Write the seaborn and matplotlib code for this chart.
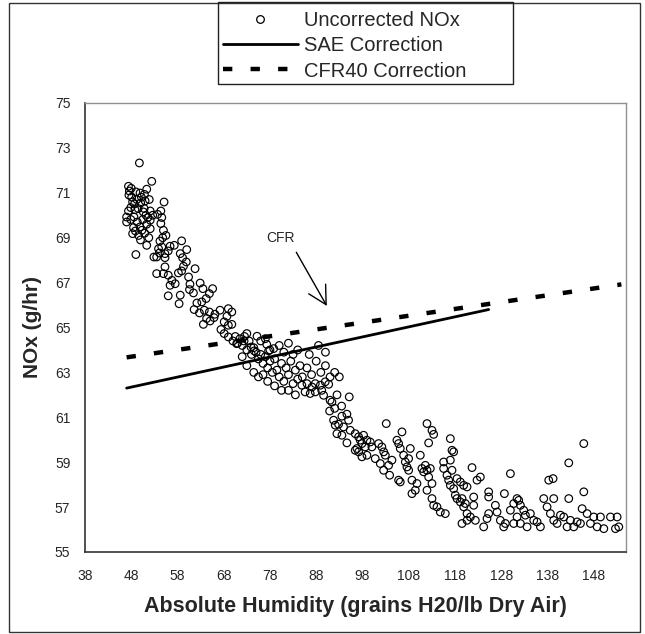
import numpy as np
import pandas as pd
import matplotlib
matplotlib.use("Agg")
import matplotlib.pyplot as plt
from matplotlib.patches import Rectangle
from matplotlib.lines import Line2D
import seaborn as sns

# Uncorrected NOx measurements (humidity in grains H2O / lb dry air, NOx in g/hr)
humidity_dry = [
    49.76, 52.43, 47.4, 47.6, 48.1, 49.0, 49.9, 50.85, 51.35, 51.9, 51.0, 50.05, 49.2, 48.3,
    47.9, 48.8, 47.4, 47.0, 47.0, 47.9, 48.6, 49.3, 48.5, 48.3, 49.9, 50.5, 51.2, 50.6, 52.1,
    52.65, 52.1, 51.35, 52.1, 50.3, 49.0, 51.35, 47.5, 48.0, 48.7, 49.5, 50.2, 50.8, 49.6, 50.9,
    51.6, 48.9, 50.0, 51.8,
    55.1, 54.4, 54.6, 53.7, 54.4, 54.96, 55.5, 54.8, 54.2, 54.6, 53.9, 52.9, 53.5, 54.1, 55.3,
    56.0, 56.4, 57.3, 58.9, 60.0, 58.6, 59.1, 59.9, 59.3, 58.9, 58.2, 55.3, 55.3, 54.96, 53.5,
    56.0, 56.8, 56.4, 57.5, 56.0, 58.6, 58.35, 60.4, 61.8, 60.7, 60.6, 61.45, 62.9, 63.5, 65.6,
    64.9, 64.2, 63.25, 62.2, 61.6, 62.75, 63.8, 64.9, 66.1, 64.3, 63.6, 65.05, 65.9, 67.2, 69.0,
    69.75, 68.7, 68.1, 69.0, 69.75, 67.4, 68.1, 69.0, 70.0, 70.8, 72.4, 73.0, 75.2, 76.0, 77.0,
    77.3, 73.9, 74.6, 78.8, 77.7,
]
nox_dry = [
    72.33, 71.51, 71.29, 71.08, 70.81, 71.04, 70.99, 70.93, 71.16, 70.70, 70.64, 70.55, 70.70, 70.59,
    70.34, 70.25, 70.19, 69.92, 69.70, 69.81, 69.92, 69.70, 69.45, 69.18, 69.48, 69.81, 70.00, 70.15, 70.19,
    70.0, 69.78, 69.6, 69.4, 69.33, 68.25, 68.66, 70.9, 71.2, 70.5, 70.3, 70.8, 70.3, 69.1, 69.2,
    69.9, 69.3, 68.9, 69.0,
    70.59, 70.19, 69.9, 70.04, 69.63, 69.33, 69.1, 69.0, 68.85, 68.59, 68.51, 68.14, 68.14, 68.32, 68.29,
    68.41, 68.62, 68.66, 68.86, 68.47, 68.29, 68.11, 67.92, 67.73, 67.52, 67.43, 68.11, 67.70, 67.40, 67.40,
    67.33, 67.10, 66.88, 66.95, 66.41, 66.44, 66.06, 67.25, 67.62, 66.93, 66.69, 66.54, 66.98, 66.73, 66.73,
    66.51, 66.29, 66.14, 66.09, 65.80, 65.65, 65.77, 65.69, 65.59, 65.40, 65.14, 65.29, 65.44, 65.77, 65.84,
    65.69, 65.50, 65.25, 65.10, 65.14, 64.91, 64.73, 64.58, 64.40, 64.28, 64.40, 64.73, 64.61, 64.40, 64.50,
    64.25, 64.13, 63.96, 64.06, 63.96,
]

humidity_mid = [
    70.5, 71.0, 71.5, 72.0, 72.5, 73.0, 73.5, 74.0, 74.5, 75.0, 75.5, 76.0, 76.5, 77.0, 77.5, 78.0,
    72.0, 73.0, 74.5, 75.5, 76.5, 77.5, 78.5, 79.0, 79.5, 80.0, 80.5, 81.0, 81.5, 82.0, 82.5, 83.0,
    83.5, 84.0, 84.5, 78.0, 80.0, 81.0, 82.0, 83.0, 84.0, 79.0, 80.5, 82.0, 83.5, 85.0, 86.0, 87.0,
    88.0, 89.0, 90.0, 91.0, 92.0, 86.5, 88.5, 90.0, 92.5, 93.5, 92.0, 93.0,
]
nox_mid = [
    64.6, 64.3, 64.5, 64.2, 64.6, 64.0, 64.4, 63.8, 64.1, 63.9, 63.6, 63.8, 63.4, 63.7, 63.2, 63.5,
    63.7, 63.3, 63.0, 62.8, 62.9, 62.6, 63.0, 63.6, 63.1, 62.8, 63.4, 62.6, 63.2, 62.9, 63.5, 62.5,
    63.1, 62.7, 63.3, 64.0, 64.2, 63.9, 64.3, 63.8, 64.0, 62.4, 62.2, 62.2, 62.0, 62.8, 63.2, 62.9,
    63.5, 63.0, 63.3, 62.8, 63.0, 63.8, 64.2, 63.9, 62.0, 61.5, 61.4, 62.8,
]

humidity_humid = [
    84.9, 86.0, 87.1, 87.8, 88.9, 89.95, 90.7, 85.6, 86.7, 87.8, 89.2, 89.6, 91.0, 91.4, 90.9, 95.15,
    91.76, 92.12, 92.84, 93.56, 94.64, 95.0, 93.92, 92.48, 93.56, 94.64, 95.36, 96.44, 97.17, 97.53,
    98.25, 97.89, 98.97, 99.69, 98.61, 96.8, 96.44, 97.17, 97.89, 98.97, 100.05, 100.77, 101.5, 102.2,
    102.6, 102.94, 101.86, 102.58, 103.66, 104.38, 103.88, 103.15, 105.46, 105.82, 106.18, 106.55,
    106.91, 107.27, 107.63, 107.99, 108.35, 107.99, 105.82, 106.18, 108.71, 108.71, 109.43, 109.79,
    110.51, 110.87, 111.24, 111.6, 111.96, 112.32, 112.68, 113.04, 111.96, 113.04, 113.4, 114.12,
    111.96, 113.04, 113.4, 112.32, 115.56, 115.56, 116.29, 116.65, 117.01, 117.73, 118.45, 119.17,
    119.89, 117.01, 117.37, 117.73, 117.01, 117.37, 114.84, 115.92, 118.09, 118.45, 119.17, 119.89,
    120.62, 121.34, 122.06, 122.06, 122.78, 123.5, 121.7, 120.62, 119.53, 120.25, 119.53, 120.62,
    122.42, 124.22, 124.94, 125.3, 125.3, 125.3, 126.75, 127.11, 127.83, 128.55, 128.91, 130.0,
    128.7, 130.0, 130.72, 131.44, 131.8, 132.16, 132.88, 133.24, 131.44, 130.72, 132.16, 133.6,
    134.32, 135.04, 135.77, 136.49, 137.21, 137.93, 138.29, 139.23, 139.37, 138.65, 139.37, 140.1,
    140.82, 141.54, 142.26, 142.62, 142.62, 142.98, 143.7, 144.42, 145.15, 145.87, 145.87, 145.51,
    146.59, 147.31, 148.03, 148.75, 149.47, 150.2, 151.64, 153.08, 152.72, 153.44,
]
nox_humid = [
    62.43, 62.50, 62.35, 62.50, 62.43, 62.58, 62.47, 62.13, 62.06, 62.13, 62.2, 61.98, 61.76, 61.68, 61.28, 61.91,
    60.87, 60.65, 60.69, 61.05, 61.14, 60.87, 60.57, 60.27, 60.2, 59.86, 60.42, 60.27, 60.13, 59.98,
    60.2, 59.83, 59.98, 59.90, 59.68, 59.61, 59.53, 59.46, 59.24, 59.31, 59.68, 59.16, 59.83, 59.68,
    59.46, 59.31, 58.94, 58.64, 58.86, 59.09, 58.42, 60.72, 59.98, 59.83, 59.61, 60.35,
    59.31, 59.01, 58.79, 58.64, 59.61, 59.16, 58.2, 58.12, 58.2, 57.6, 57.75, 58.05,
    59.31, 58.72, 58.57, 58.86, 58.64, 58.34, 58.72, 58.05, 57.75, 57.38, 57.08, 57.01,
    60.72, 60.42, 60.24, 59.86, 59.01, 58.72, 58.42, 58.2, 57.97, 57.82, 58.27, 58.12,
    57.97, 60.05, 59.53, 59.46, 59.09, 58.64, 56.78, 56.71, 57.53, 57.38, 57.23, 57.01,
    56.71, 56.56, 57.08, 57.45, 58.2, 58.34, 58.76, 57.9, 57.38, 57.16, 56.27, 56.41,
    56.41, 56.12, 56.49, 56.71, 57.68, 57.45, 57.08, 56.78, 56.41, 56.12, 56.27, 58.49,
    57.6, 56.86, 57.16, 57.38, 57.3, 57.08, 56.86, 56.64, 56.56, 56.27, 56.27, 56.12,
    56.71, 56.41, 56.34, 56.12, 57.38, 57.01, 58.2, 58.27, 57.38, 56.71, 56.41, 56.27,
    56.64, 56.56, 56.12, 58.97, 57.38, 56.41, 56.12, 56.34, 56.27, 59.83, 57.68, 56.93,
    56.71, 56.27, 56.56, 56.12, 56.56, 56.04, 56.56, 56.56, 56.04, 56.12,
]

# Humidity-correction curves
sae_humidity = [47.0, 125.3]
sae_nox = [62.3, 65.8]
cfr_humidity = [47.0, 154.0]
cfr_nox = [63.67, 66.92]

x_ticks = list(range(38, 149, 10))
y_ticks = list(range(55, 76, 2))

measured = pd.DataFrame({
    "humidity": humidity_dry + humidity_mid + humidity_humid,
    "nox": nox_dry + nox_mid + nox_humid,
})
sae = pd.DataFrame({"humidity": sae_humidity, "nox": sae_nox})
cfr = pd.DataFrame({"humidity": cfr_humidity, "nox": cfr_nox})

sns.set_style("white")
plt.rcParams["font.family"] = ["Liberation Sans", "DejaVu Sans"]

W, H = 645, 634
fig = plt.figure(figsize=(W / 100, H / 100), dpi=100)
ax = fig.add_axes([85 / W, 1 - 552 / H, (626 - 85) / W, (552 - 103) / H])

sns.scatterplot(data=measured, x="humidity", y="nox", ax=ax, s=30, marker="o",
                facecolor="none", edgecolor="black", linewidth=0.85, zorder=3)
sns.lineplot(data=sae, x="humidity", y="nox", ax=ax, color="black", linewidth=2.0,
             estimator=None, sort=False, zorder=4)
sns.lineplot(data=cfr, x="humidity", y="nox", ax=ax, color="black", linewidth=3.2,
             estimator=None, sort=False, zorder=4)
ax.lines[-1].set_dashes((2.1, 4.1))

ax.set_xlim(38, 155)
ax.set_ylim(55, 75)
ax.set_xticks(x_ticks)
ax.set_yticks(y_ticks)
ax.tick_params(axis="both", which="major", direction="out", length=4.5, width=1,
               color="#333333", labelsize=10, pad=6)
ax.tick_params(axis="x", pad=8)

for side in ("left", "bottom"):
    ax.spines[side].set_color("#333333")
    ax.spines[side].set_linewidth(1.2)
for side in ("top", "right"):
    ax.spines[side].set_color("#909090")
    ax.spines[side].set_linewidth(1.0)

ax.set_xlabel("Absolute Humidity (grains H20/lb Dry Air)", fontsize=15.5, fontweight="bold",
              labelpad=9)
ax.set_ylabel("NOx (g/hr)", fontsize=15, fontweight="bold", labelpad=9)

# CFR callout
ax.text(80.2, 68.97, "CFR", fontsize=10, ha="center", va="center")
ax.annotate("", xy=(90.3, 65.96), xytext=(83.7, 68.35),
            arrowprops=dict(arrowstyle="->,head_length=1.3,head_width=0.7",
                            color="black", lw=1.0, shrinkA=0, shrinkB=0,
                            mutation_scale=10))

handles = [
    Line2D([], [], linestyle="none", marker="o", markerfacecolor="none",
           markeredgecolor="black", markersize=5.5, markeredgewidth=0.9),
    Line2D([], [], color="black", linewidth=2.0),
    Line2D([], [], color="black", linewidth=3.2, dashes=(2.1, 4.1)),
]
labels = ["Uncorrected NOx", "SAE Correction", "CFR40 Correction"]
leg = fig.legend(handles, labels, loc="upper left", bbox_to_anchor=(218 / W, 1 - 6 / H),
                 frameon=False, fontsize=14.5, handlelength=3.7,
                 handletextpad=0.3, labelspacing=0.31, borderpad=0.25, borderaxespad=0)

# Legend box and outer frame around the whole chart
fig.patches.append(Rectangle((218 / W, 1 - 84 / H), (513 - 218) / W, 82 / H,
                             transform=fig.transFigure, fill=False,
                             edgecolor="#222222", linewidth=1.0, zorder=5))
fig.patches.append(Rectangle((9 / W, 2 / H), 631 / W, 629 / H, transform=fig.transFigure,
                             fill=False, edgecolor="#333333", linewidth=1.0, zorder=0))

fig.savefig("out.png", dpi=100)
